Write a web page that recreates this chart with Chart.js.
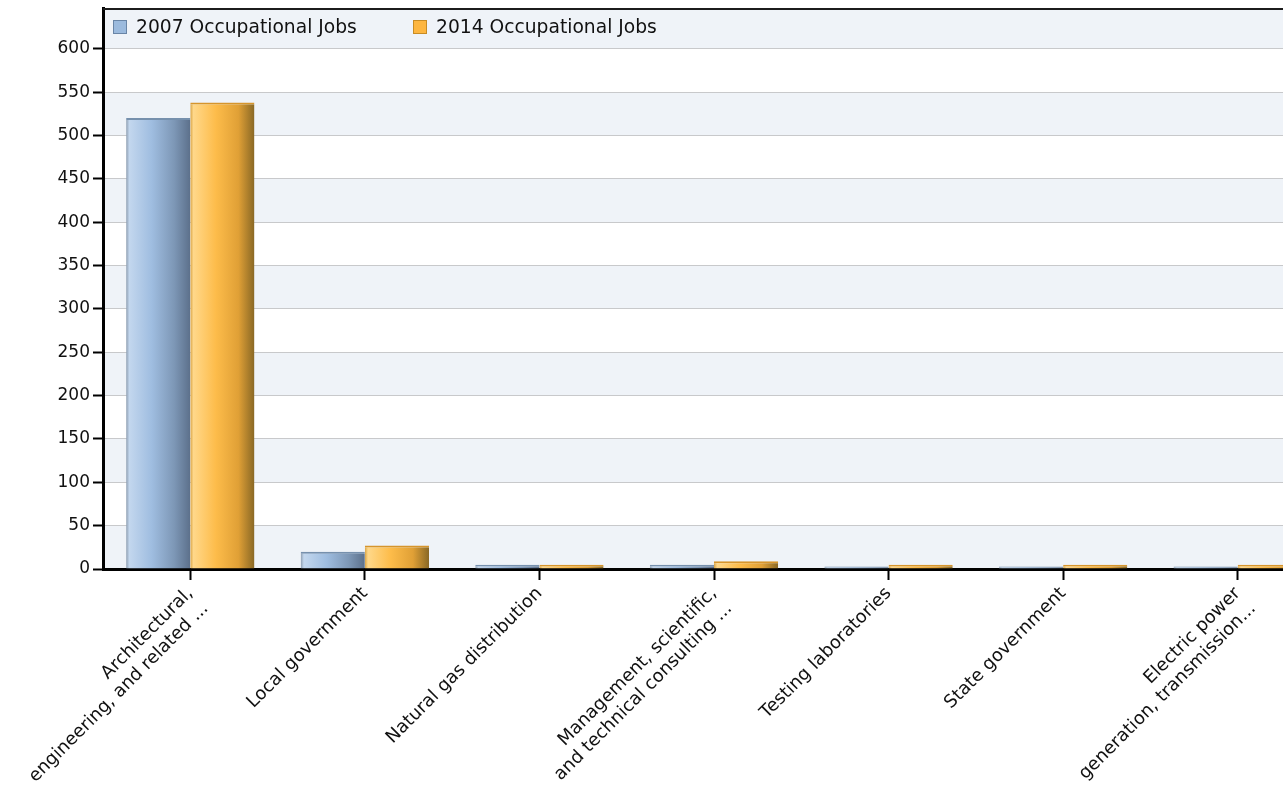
<!DOCTYPE html>
<html>
<head>
<meta charset="utf-8">
<title>Occupational Jobs by Industry</title>
<script src="https://cdn.jsdelivr.net/npm/chart.js@4.4.1/dist/chart.umd.min.js"></script>
<style>
  html, body { margin: 0; padding: 0; background: #fff; overflow: hidden; }
  #wrap { position: relative; width: 1330px; height: 791px; }
  #legend {
    position: absolute; left: 113px; top: 16px; display: flex;
    font: 18.7px "DejaVu Sans", sans-serif; color: #111;
  }
  #legend .item { display: flex; align-items: center; min-width: 300px; }
  #legend .swatch {
    width: 14px; height: 14px; box-sizing: border-box; border: 1px solid; margin-right: 9px;
  }
</style>
</head>
<body>
<div id="wrap">
  <canvas id="chart"></canvas>
  <div id="legend"></div>
</div>
<script>
// industries (x axis), long names wrap onto two lines
const industries = [
  ["Architectural,", "engineering, and related ..."],
  "Local government",
  "Natural gas distribution",
  ["Management, scientific,", "and technical consulting ..."],
  "Testing laboratories",
  "State government",
  ["Electric power", "generation, transmission..."],
];
const seriesNames = ["2007 Occupational Jobs", "2014 Occupational Jobs"];
const jobs2007 = [520, 20, 5, 5, 3, 3, 3];
const jobs2014 = [538, 27, 5, 9, 5, 5, 5];
const yTicks = [0, 50, 100, 150, 200, 250, 300, 350, 400, 450, 500, 550, 600];

const catPct = 0.735;

// gradient stops for the "cylinder" look of the bars
const blueStops = [[0, "#8d9db0"], [0.05, "#c3d7ee"], [0.4, "#9fbde0"], [0.75, "#7d97b6"], [1, "#5c708b"]];
const orangeStops = [[0, "#d9a446"], [0.05, "#ffd88a"], [0.4, "#fdbc4a"], [0.75, "#e0a036"], [1, "#896825"]];
const legendFill = ["#9bbadd", "#fdb640"];
const legendStroke = ["#6985a6", "#c88c24"];

function barGradient(stops) {
  return function (c) {
    const chart = c.chart;
    const x = chart.scales.x;
    if (c.type !== "data" || !x || !chart.chartArea) return stops[2][1];
    const center = x.getPixelForValue(c.dataIndex);
    const barW = (x.width / industries.length) * catPct / 2;
    const left = c.datasetIndex === 0 ? center - barW : center;
    const g = chart.ctx.createLinearGradient(left, 0, left + barW, 0);
    stops.forEach(function (s) { g.addColorStop(s[0], s[1]); });
    return g;
  };
}

// alternating bands behind the grid + top frame line
const bandPlugin = {
  id: "bands",
  beforeDraw(chart) {
    const { ctx, chartArea: a, scales: { y } } = chart;
    ctx.save();
    ctx.fillStyle = "#ffffff";
    ctx.fillRect(0, 0, chart.width, chart.height);
    ctx.fillStyle = "#eff3f8";
    for (let i = 0; i < yTicks.length; i += 2) {
      const top = i + 1 < yTicks.length ? y.getPixelForValue(yTicks[i + 1]) : a.top;
      const bottom = y.getPixelForValue(yTicks[i]);
      ctx.fillRect(a.left, top, a.right - a.left, bottom - top);
    }
    ctx.restore();
  },
  afterDraw(chart) {
    const { ctx, chartArea: a } = chart;
    ctx.save();
    ctx.strokeStyle = "#1c1c1c";
    ctx.lineWidth = 2;
    ctx.beginPath();
    ctx.moveTo(a.left, a.top + 1);
    ctx.lineTo(a.right, a.top + 1);
    ctx.stroke();
    ctx.restore();
  },
};

const ctx = document.getElementById("chart").getContext("2d");
const chart = new Chart(ctx, {
  type: "bar",
  data: {
    labels: industries,
    datasets: [
      {
        label: seriesNames[0],
        data: jobs2007,
        backgroundColor: barGradient(blueStops),
        borderColor: "#7690ad",
        borderWidth: { top: 2, left: 0, right: 0, bottom: 0 },
        borderSkipped: "bottom",
      },
      {
        label: seriesNames[1],
        data: jobs2014,
        backgroundColor: barGradient(orangeStops),
        borderColor: "#d6952c",
        borderWidth: { top: 2, left: 0, right: 0, bottom: 0 },
        borderSkipped: "bottom",
      },
    ],
  },
  options: {
    responsive: true,
    maintainAspectRatio: false,
    animation: false,
    barPercentage: 1,
    categoryPercentage: catPct,
    layout: { padding: { top: 8, right: 5, left: 0, bottom: 0 } },
    plugins: {
      legend: { display: false },
      tooltip: { enabled: false },
    },
    scales: {
      x: {
        offset: true,
        grid: {
          offset: false,
          drawOnChartArea: false,
          drawTicks: true,
          tickLength: 11,
          tickColor: "#000",
          tickWidth: 2,
        },
        border: { display: true, color: "#000", width: 3 },
        ticks: {
          autoSkip: false,
          maxRotation: 45,
          minRotation: 45,
          padding: 3,
          color: "#111",
          font: { family: "DejaVu Sans", size: 18 },
        },
        afterFit(s) {
          s.height = 222;
          s.paddingLeft = 0;
          s.paddingRight = 0;
        },
      },
      y: {
        min: 0,
        max: 647,
        ticks: {
          stepSize: 50,
          padding: 3,
          color: "#111",
          font: { family: "DejaVu Sans", size: 17 },
        },
        afterBuildTicks(s) {
          s.ticks = yTicks.map(function (v) { return { value: v }; });
        },
        grid: {
          color: "#c8c9cb",
          lineWidth: 1,
          tickColor: "#000",
          tickLength: 10,
          tickWidth: 2,
        },
        border: { display: true, color: "#000", width: 3 },
        afterFit(s) {
          s.width = 103;
          s.paddingTop = 0;
          s.paddingBottom = 0;
        },
      },
    },
  },
  plugins: [bandPlugin],
});

// HTML legend sitting inside the plot area
const legendEl = document.getElementById("legend");
chart.data.datasets.forEach(function (ds, i) {
  const item = document.createElement("div");
  item.className = "item";
  const sw = document.createElement("span");
  sw.className = "swatch";
  sw.style.background = legendFill[i];
  sw.style.borderColor = legendStroke[i];
  const txt = document.createElement("span");
  txt.textContent = ds.label;
  item.appendChild(sw);
  item.appendChild(txt);
  legendEl.appendChild(item);
});
</script>
</body>
</html>
